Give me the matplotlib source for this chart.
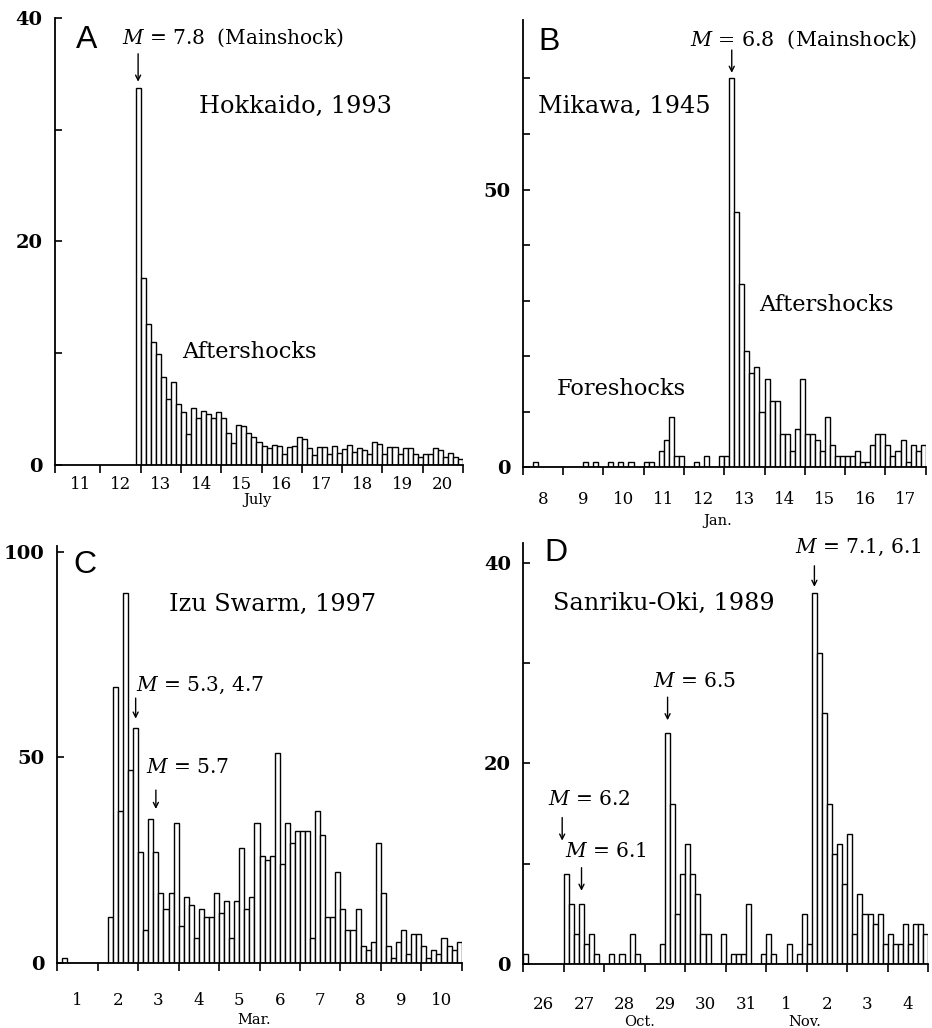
import numpy as np
import matplotlib
matplotlib.use("Agg")
import matplotlib.pyplot as plt
from matplotlib.ticker import FixedLocator, FixedFormatter

plt.rcParams["font.family"] = ["DejaVu Serif"]
plt.rcParams["mathtext.fontset"] = "dejavuserif"

BIN = 1 / 8  # three-hour bins, in days

# Hokkaido 1993 (July), bins starting at 12.875
hokkaido_start = 12.875
hokkaido = [33.7, 16.7, 12.6, 11.0, 9.9, 7.9, 5.9, 7.4, 5.5, 4.7,
            2.8, 5.1, 4.2, 4.8, 4.6, 4.2, 4.7, 4.2, 2.9, 2.0,
            3.6, 3.5, 2.9, 2.5, 2.1, 1.7, 1.5, 1.8, 1.7, 1.0,
            1.6, 1.7, 2.5, 2.3, 1.5, 0.9, 1.6, 1.6, 1.0, 1.7,
            1.1, 1.4, 1.8, 1.2, 1.5, 1.3, 1.0, 2.1, 1.9, 1.0,
            1.6, 1.6, 1.0, 1.5, 1.5, 1.0, 0.7, 1.0, 1.0, 1.5,
            1.3, 0.7, 1.1, 0.7, 0.5]
hokkaido_days = [11, 12, 13, 14, 15, 16, 17, 18, 19, 20]

# Mikawa 1945 (January), bins starting at Jan 8
mikawa_start = 8.0
mikawa = [0, 0, 1, 0, 0, 0, 0, 0, 0, 0,
          0, 0, 1, 0, 1, 0, 0, 1, 0, 1,
          0, 1, 0, 0, 1, 1, 0, 3, 5, 9,
          2, 2, 0, 0, 1, 0, 2, 0, 0, 2,
          2, 70, 46, 33, 21, 17, 18, 10, 16, 12,
          12, 6, 6, 3, 7, 16, 6, 6, 5, 3,
          9, 4, 2, 2, 2, 2, 3, 1, 1, 4,
          6, 6, 4, 2, 3, 5, 1, 4, 3, 4]
mikawa_days = [8, 9, 10, 11, 12, 13, 14, 15, 16, 17]

# Izu swarm 1997 (March), bins starting at Mar 1
izu_start = 1.0
izu = [0, 1, 0, 0, 0, 0, 0, 0, 0, 0,
       11, 67, 37, 90, 47, 57, 27, 8, 35, 27,
       17, 13, 17, 34, 9, 16, 14, 6, 13, 11,
       11, 17, 12, 15, 6, 15, 28, 13, 16, 34,
       26, 25, 26, 51, 24, 34, 29, 32, 32, 32,
       6, 37, 31, 11, 11, 22, 13, 8, 8, 13,
       4, 3, 5, 29, 17, 4, 1, 5, 8, 2,
       7, 7, 4, 1, 3, 2, 6, 4, 3, 5]
izu_days = [1, 2, 3, 4, 5, 6, 7, 8, 9, 10]

# Sanriku-Oki 1989, bins starting at Oct 26 (day index 0)
sanriku_start = 0.0
sanriku = [1, 0, 0, 0, 0, 0, 0, 0, 9, 6,
           3, 6, 2, 3, 1, 0, 0, 1, 0, 1,
           0, 3, 1, 0, 0, 0, 0, 2, 23, 16,
           5, 9, 12, 9, 7, 3, 3, 0, 0, 3,
           0, 1, 1, 1, 6, 0, 0, 1, 3, 1,
           0, 0, 2, 0, 1, 5, 2, 37, 31, 25,
           16, 11, 12, 8, 13, 3, 7, 5, 5, 4,
           5, 2, 3, 2, 2, 4, 2, 4, 4, 3]
sanriku_days = [26, 27, 28, 29, 30, 31, 1, 2, 3, 4]

W, H = 932, 1028
fig = plt.figure(figsize=(W / 100, H / 100), dpi=100)


def axes_px(left, right, top, bottom):
    return fig.add_axes([left / W, 1 - bottom / H, (right - left) / W, (bottom - top) / H])


def draw_panel(ax, start, values, day_labels, x0, ylim, yticks, ylabels, xpad):
    edges = start + BIN * np.arange(len(values))
    ax.bar(edges, values, width=BIN, align="edge", facecolor="white",
           edgecolor="black", linewidth=1.0)
    x1 = x0 + len(day_labels)
    ax.set_xlim(x0, x1)
    ax.set_ylim(*ylim)
    for s in ("top", "right"):
        ax.spines[s].set_visible(False)
    for s in ("left", "bottom"):
        ax.spines[s].set_linewidth(1.3)
    # day boundaries as ticks, day numbers centred between them
    ax.xaxis.set_major_locator(FixedLocator(list(range(x0, x1 + 1))))
    ax.xaxis.set_major_formatter(FixedFormatter([""] * (x1 - x0 + 1)))
    ax.xaxis.set_minor_locator(FixedLocator([d + 0.5 for d in range(x0, x1)]))
    ax.xaxis.set_minor_formatter(FixedFormatter([str(d) for d in day_labels]))
    ax.tick_params(axis="x", which="major", direction="out", length=6, width=1.2)
    ax.tick_params(axis="x", which="minor", length=0, pad=xpad, labelsize=12)
    ax.yaxis.set_major_locator(FixedLocator(yticks))
    ax.yaxis.set_major_formatter(FixedFormatter(ylabels))
    ax.tick_params(axis="y", direction="in", length=5, width=1.2, pad=9, labelsize=14)
    for lab in ax.get_yticklabels():
        lab.set_fontweight("bold")


def arrow(ax, x, y_from, y_to):
    ax.annotate("", xy=(x, y_to), xytext=(x, y_from),
                arrowprops=dict(arrowstyle="->", lw=1.0, color="black",
                                shrinkA=0, shrinkB=0, mutation_scale=9),
                annotation_clip=False)


def letter(ax, x, y, s):
    ax.text(x, y, s, ha="center", va="center", fontsize=23,
            family=["Liberation Sans", "DejaVu Sans"])


MAG = 14.5    # magnitude annotations
TITLE = 17.3  # event names
PHASE = 16.2  # foreshock / aftershock labels

# ---- A: Hokkaido ----
axA = axes_px(55, 463, 18, 465)
draw_panel(axA, hokkaido_start, hokkaido, hokkaido_days, 11, (0, 40),
           [0, 10, 20, 30, 40], ["0", "", "20", "", "40"], xpad=8)
axA.set_xlim(10.875, 21)
axA.xaxis.set_major_locator(FixedLocator([10.875] + list(range(12, 22))))
axA.xaxis.set_major_formatter(FixedFormatter([""] * 11))
letter(axA, 11.67, 38.0, "A")
axA.text(12.54, 38.2, r"$M$ = 7.8  (Mainshock)", ha="left", va="center", fontsize=MAG)
arrow(axA, hokkaido_start + BIN / 2, 36.8, 34.3)
axA.text(16.85, 32.1, "Hokkaido, 1993", ha="center", va="center", fontsize=TITLE)
axA.text(15.71, 10.1, "Aftershocks", ha="center", va="center", fontsize=PHASE)
fig.text(257 / W, 1 - 500 / H, "July", ha="center", va="center", fontsize=10.5)

# ---- B: Mikawa ----
axB = axes_px(522.7, 925.7, 20, 467.5)
draw_panel(axB, mikawa_start, mikawa, mikawa_days, 8, (0, 80.5),
           [0, 10, 20, 30, 40, 50, 60, 70], ["0", "", "", "", "", "50", "", ""], xpad=17)
letter(axB, 8.65, 76.5, "B")
axB.text(12.16, 76.9, r"$M$ = 6.8  (Mainshock)", ha="left", va="center", fontsize=MAG + 0.4)
arrow(axB, mikawa_start + 41 * BIN + BIN / 2, 75.1, 71.0)
axB.text(10.51, 64.9, "Mikawa, 1945", ha="center", va="center", fontsize=TITLE)
axB.text(10.45, 14.1, "Foreshocks", ha="center", va="center", fontsize=PHASE)
axB.text(15.54, 29.2, "Aftershocks", ha="center", va="center", fontsize=PHASE)
fig.text(718 / W, 1 - 521 / H, "Jan.", ha="center", va="center", fontsize=10.5)

# ---- C: Izu swarm ----
axC = axes_px(57.3, 461.7, 545.8, 962.5)
draw_panel(axC, izu_start, izu, izu_days, 1, (0, 101.5),
           [0, 50, 100], ["0", "50", "100"], xpad=21)
letter(axC, 1.685, 96.8, "C")
axC.text(6.32, 87.1, "Izu Swarm, 1997", ha="center", va="center", fontsize=TITLE)
axC.text(2.95, 67.6, r"$M$ = 5.3, 4.7", ha="left", va="center", fontsize=MAG)
arrow(axC, izu_start + 15 * BIN + BIN / 2, 64.4, 59.4)
axC.text(3.20, 47.6, r"$M$ = 5.7", ha="left", va="center", fontsize=MAG)
arrow(axC, izu_start + 19 * BIN + BIN / 2, 42.0, 37.4)
fig.text(254 / W, 1 - 1020 / H, "Mar.", ha="center", va="center", fontsize=10.5)

# ---- D: Sanriku-Oki ----
axD = axes_px(523.3, 928.3, 542.7, 964)
draw_panel(axD, sanriku_start, sanriku, sanriku_days, 0, (0, 42),
           [0, 10, 20, 30, 40], ["0", "", "20", "", "40"], xpad=23)
letter(axD, 0.81, 41.0, "D")
axD.text(6.70, 41.5, r"$M$ = 7.1, 6.1", ha="left", va="center", fontsize=MAG)
arrow(axD, sanriku_start + 57 * BIN + BIN / 2, 39.7, 37.6)
axD.text(3.47, 35.96, "Sanriku-Oki, 1989", ha="center", va="center", fontsize=TITLE)
axD.text(3.20, 28.2, r"$M$ = 6.5", ha="left", va="center", fontsize=MAG)
arrow(axD, sanriku_start + 28 * BIN + BIN / 2, 26.6, 24.3)
axD.text(0.61, 16.4, r"$M$ = 6.2", ha="left", va="center", fontsize=MAG)
arrow(axD, 0.96, 14.6, 12.3)
axD.text(1.03, 11.2, r"$M$ = 6.1", ha="left", va="center", fontsize=MAG)
arrow(axD, sanriku_start + 11 * BIN + BIN / 2, 9.6, 7.3)
fig.text(640 / W, 1 - 1022 / H, "Oct.", ha="center", va="center", fontsize=10.5)
fig.text(805 / W, 1 - 1022 / H, "Nov.", ha="center", va="center", fontsize=10.5)

fig.savefig("out.png", dpi=100)
